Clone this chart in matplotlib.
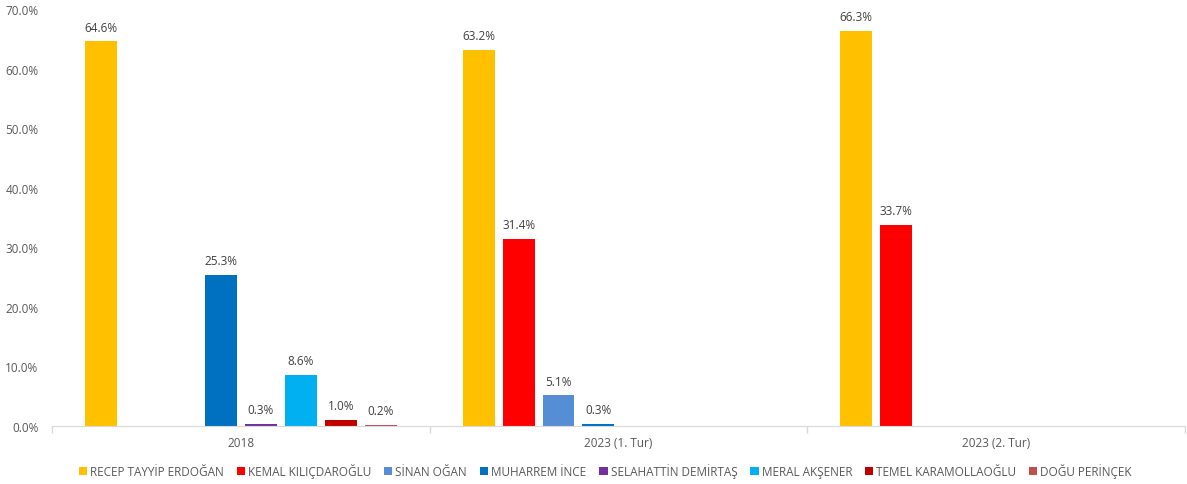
import numpy as np
import matplotlib.pyplot as plt
from matplotlib.patches import Patch

plt.rcParams['font.family'] = ['Open Sans', 'DejaVu Sans']

groups = ['2018', '2023 (1. Tur)', '2023 (2. Tur)']
candidates = ['RECEP TAYYİP ERDOĞAN', 'KEMAL KILIÇDAROĞLU', 'SİNAN OĞAN', 'MUHARREM İNCE',
              'SELAHATTİN DEMİRTAŞ', 'MERAL AKŞENER', 'TEMEL KARAMOLLAOĞLU', 'DOĞU PERİNÇEK']
colors = ['#FFC000', '#FF0000', '#558ED5', '#0070C0', '#7030A0', '#00B0F0', '#C00000', '#C0504D']

# percent per candidate for each group (nan = not a candidate)
erdogan = [64.6, 63.2, 66.3]
kilicdaroglu = [np.nan, 31.4, 33.7]
ogan = [np.nan, 5.1, np.nan]
ince = [25.3, 0.3, np.nan]
demirtas = [0.3, np.nan, np.nan]
aksener = [8.6, np.nan, np.nan]
karamollaoglu = [1.0, np.nan, np.nan]
perincek = [0.2, np.nan, np.nan]
series = [erdogan, kilicdaroglu, ogan, ince, demirtas, aksener, karamollaoglu, perincek]

fig = plt.figure(figsize=(11.87, 4.85), dpi=100)
ax = fig.add_axes([0.044, 0.12, 0.954, 0.859])

slot = 40 / 378
width = 32 / 378
x = np.arange(len(groups))
for j, (vals, col) in enumerate(zip(series, colors)):
    pos = x + (j - 3.5) * slot
    vals = np.array(vals, dtype=float)
    ax.bar(pos, np.nan_to_num(vals), width, color=col, zorder=2)
    for p, v in zip(pos, vals):
        if not np.isnan(v):
            ax.text(p, v + 1.3, f'{v:.1f}%', ha='center', va='bottom', fontsize=8.5, color='#404040')

ax.set_xlim(-0.5, 2.5)
ax.set_ylim(0, 70)
ax.set_yticks(np.arange(0, 71, 10))
ax.set_yticklabels([f'{t:.1f}%' for t in np.arange(0, 71, 10)], fontsize=8.5, color='#595959')
ax.tick_params(axis='y', length=0, pad=10)

ax.set_xticks([-0.5, 0.5, 1.5, 2.5])
ax.set_xticklabels([])
ax.set_xticks(x, minor=True)
ax.set_xticklabels(groups, minor=True, fontsize=8.5, color='#595959')
ax.tick_params(axis='x', which='major', length=5, color='#D9D9D9', width=1)
ax.tick_params(axis='x', which='minor', length=0, pad=7)

for s in ['top', 'right', 'left']:
    ax.spines[s].set_visible(False)
ax.spines['bottom'].set_color('#D9D9D9')

handles = [Patch(facecolor=c, label=n) for c, n in zip(colors, candidates)]
fig.legend(handles=handles, loc='center', bbox_to_anchor=(0.51, 0.028), ncol=8, frameon=False,
           fontsize=8.5, handlelength=0.7, handleheight=0.7, handletextpad=0.25, columnspacing=1.1,
           labelcolor='#595959')

fig.savefig('out.png', dpi=100)
